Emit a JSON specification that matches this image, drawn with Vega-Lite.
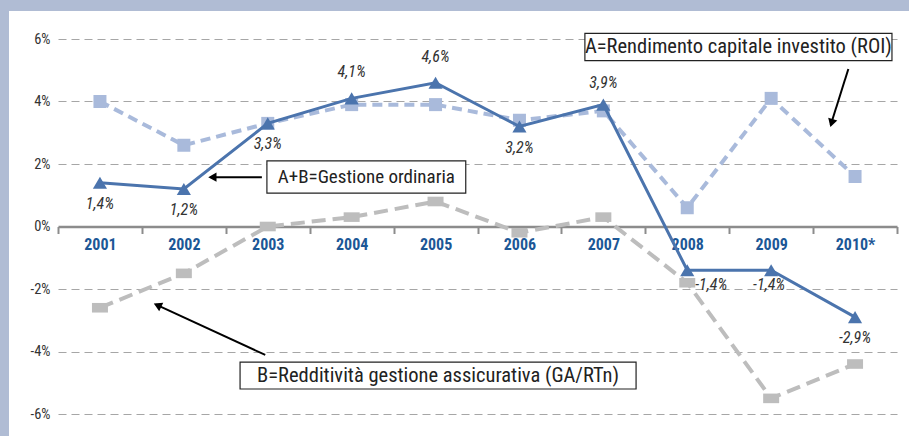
{
  "$schema": "https://vega.github.io/schema/vega-lite/v6.json",
  "width": 839,
  "height": 375,
  "autosize": "none",
  "padding": {"left": 58, "top": 39, "right": 12, "bottom": 22},
  "background": "white",
  "config": {
    "view": {"stroke": null},
    "font": "Roboto Condensed, Liberation Sans Narrow, Roboto, sans-serif",
    "locale": {"number": {"decimal": ",", "thousands": ".", "grouping": [3], "currency": ["", " €"], "minus": "-"}}
  },
  "datasets": {
    "series": [
      {"year": "2001", "roi": 0.040, "ab": 0.014, "b": -0.026},
      {"year": "2002", "roi": 0.026, "ab": 0.012, "b": -0.015},
      {"year": "2003", "roi": 0.033, "ab": 0.033, "b": 0.000},
      {"year": "2004", "roi": 0.039, "ab": 0.041, "b": 0.003},
      {"year": "2005", "roi": 0.039, "ab": 0.046, "b": 0.008},
      {"year": "2006", "roi": 0.034, "ab": 0.032, "b": -0.002},
      {"year": "2007", "roi": 0.037, "ab": 0.039, "b": 0.003},
      {"year": "2008", "roi": 0.006, "ab": -0.014, "b": -0.018},
      {"year": "2009", "roi": 0.041, "ab": -0.014, "b": -0.055},
      {"year": "2010*", "roi": 0.016, "ab": -0.029, "b": -0.044}
    ],
    "frame": [
      {"x": -0.70, "x2": 10.2, "y": 0.069, "y2": 0.076},
      {"x": -0.70, "x2": -0.584, "y": -0.075, "y2": 0.076}
    ],
    "boxes": [
      {"box": "A", "x": 6.28, "x2": 9.94, "y": 0.0618, "y2": 0.0531, "cx": 8.11, "cy": 0.0575, "text": "A=Rendimento capitale investito (ROI)"},
      {"box": "AB", "x": 2.49, "x2": 4.86, "y": 0.0210, "y2": 0.0107, "cx": 3.675, "cy": 0.0159, "text": "A+B=Gestione ordinaria"},
      {"box": "B", "x": 2.17, "x2": 6.89, "y": -0.0434, "y2": -0.0520, "cx": 4.53, "cy": -0.0477, "text": "B=Redditività gestione assicurativa (GA/RTn)"}
    ],
    "arrows": [
      {"x": 9.42, "y": 0.0504, "x2": 9.21, "y2": 0.0325},
      {"x": 2.43, "y": 0.0158, "x2": 1.82, "y2": 0.0158},
      {"x": 2.47, "y": -0.0411, "x2": 1.17, "y2": -0.0250}
    ]
  },
  "layer": [
    {
      "data": {"name": "frame"},
      "mark": {"type": "rect", "color": "#b0bcd4"},
      "encoding": {
        "x": {"field": "x", "type": "quantitative", "scale": {"domain": [0, 10], "nice": false, "zero": false}, "axis": null},
        "x2": {"field": "x2"},
        "y": {
          "field": "y", "type": "quantitative", "title": null,
          "scale": {"domain": [-0.06, 0.06], "nice": false},
          "axis": {
            "title": null, "values": [-0.06, -0.04, -0.02, 0, 0.02, 0.04, 0.06], "format": ".0%",
            "domain": false, "ticks": false, "labelPadding": 8,
            "grid": true, "gridDash": [8, 5], "gridColor": "#a6a6a6", "gridWidth": 1.2,
            "labelFontSize": 14.5, "labelColor": "#333333"
          }
        },
        "y2": {"field": "y2"}
      }
    },
    {
      "data": {"name": "series"},
      "encoding": {
        "x": {
          "field": "year", "type": "nominal", "sort": null,
          "scale": {"type": "band", "paddingInner": 0, "paddingOuter": 0},
          "axis": {
            "title": null, "orient": "bottom", "offset": -187.5,
            "domainColor": "#8c8c8c", "domainWidth": 2.5,
            "tickColor": "#8c8c8c", "tickWidth": 2, "tickSize": 7, "tickBand": "extent",
            "labelFontSize": 16, "labelFontWeight": "bold", "labelColor": "#1c5796", "labelPadding": 3,
            "grid": false, "labelAngle": 0
          }
        }
      },
      "layer": [
        {
          "mark": {"type": "line", "color": "#bdbdbd", "strokeWidth": 4, "strokeDash": [14, 7]},
          "encoding": {"y": {"field": "b", "type": "quantitative", "title": null}}
        },
        {
          "mark": {"type": "point", "filled": true, "opacity": 1, "color": "#bdbdbd", "shape": "M-1,-0.6L1,-0.6L1,0.6L-1,0.6Z", "size": 256},
          "encoding": {"y": {"field": "b", "type": "quantitative", "title": null}}
        },
        {
          "mark": {"type": "line", "color": "#a9badb", "strokeWidth": 4, "strokeDash": [10, 6]},
          "encoding": {"y": {"field": "roi", "type": "quantitative", "title": null}}
        },
        {
          "mark": {"type": "point", "filled": true, "opacity": 1, "color": "#a9badb", "shape": "square", "size": 169},
          "encoding": {"y": {"field": "roi", "type": "quantitative", "title": null}}
        },
        {
          "mark": {"type": "line", "color": "#4b74ad", "strokeWidth": 3},
          "encoding": {"y": {"field": "ab", "type": "quantitative", "title": null}}
        },
        {
          "mark": {"type": "point", "filled": true, "opacity": 1, "color": "#4b74ad", "shape": "triangle-up", "size": 200},
          "encoding": {"y": {"field": "ab", "type": "quantitative", "title": null}}
        },
        {
          "transform": [{"filter": "indexof(['2004','2005'], datum.year) >= 0"}],
          "mark": {"type": "text", "fontStyle": "italic", "fontSize": 16, "color": "#333333", "dy": -26},
          "encoding": {"y": {"field": "ab", "type": "quantitative", "title": null}, "text": {"field": "ab", "type": "quantitative", "format": ".1%"}}
        },
        {
          "transform": [{"filter": "datum.year == '2007'"}],
          "mark": {"type": "text", "fontStyle": "italic", "fontSize": 16, "color": "#333333", "dy": -22},
          "encoding": {"y": {"field": "ab", "type": "quantitative", "title": null}, "text": {"field": "ab", "type": "quantitative", "format": ".1%"}}
        },
        {
          "transform": [{"filter": "indexof(['2001','2002','2003','2006','2010*'], datum.year) >= 0"}],
          "mark": {"type": "text", "fontStyle": "italic", "fontSize": 16, "color": "#333333", "dy": 21},
          "encoding": {"y": {"field": "ab", "type": "quantitative", "title": null}, "text": {"field": "ab", "type": "quantitative", "format": ".1%"}}
        },
        {
          "transform": [{"filter": "datum.year == '2008'"}],
          "mark": {"type": "text", "fontStyle": "italic", "fontSize": 16, "color": "#333333", "dx": 24, "dy": 15},
          "encoding": {"y": {"field": "ab", "type": "quantitative", "title": null}, "text": {"field": "ab", "type": "quantitative", "format": ".1%"}}
        },
        {
          "transform": [{"filter": "datum.year == '2009'"}],
          "mark": {"type": "text", "fontStyle": "italic", "fontSize": 16, "color": "#333333", "dx": -2, "dy": 15},
          "encoding": {"y": {"field": "ab", "type": "quantitative", "title": null}, "text": {"field": "ab", "type": "quantitative", "format": ".1%"}}
        }
      ]
    },
    {
      "encoding": {
        "x": {"field": "x", "type": "quantitative", "scale": {"domain": [0, 10], "nice": false, "zero": false}, "axis": null},
        "y": {"field": "y", "type": "quantitative", "title": null}
      },
      "layer": [
        {
          "data": {"name": "arrows"},
          "mark": {"type": "rule", "color": "black", "strokeWidth": 2},
          "encoding": {"x2": {"field": "x2"}, "y2": {"field": "y2"}}
        },
        {
          "data": {"values": [{"x": 9.22, "y": 0.0331}]},
          "mark": {"type": "point", "shape": "triangle-up", "filled": true, "opacity": 1, "color": "black", "size": 90, "angle": 197},
          "encoding": {}
        },
        {
          "data": {"values": [{"x": 1.84, "y": 0.0158}]},
          "mark": {"type": "point", "shape": "triangle-up", "filled": true, "opacity": 1, "color": "black", "size": 90, "angle": 270},
          "encoding": {}
        },
        {
          "data": {"values": [{"x": 1.186, "y": -0.0252}]},
          "mark": {"type": "point", "shape": "triangle-up", "filled": true, "opacity": 1, "color": "black", "size": 90, "angle": 295},
          "encoding": {}
        },
        {
          "data": {"name": "boxes"},
          "mark": {"type": "rect", "fill": "white", "stroke": "#222222", "strokeWidth": 1.2},
          "encoding": {"x2": {"field": "x2"}, "y2": {"field": "y2"}}
        },
        {
          "data": {"name": "boxes"},
          "transform": [{"filter": "datum.box != 'AB'"}],
          "mark": {"type": "text", "fontSize": 20.5, "color": "#222222"},
          "encoding": {
            "x": {"field": "cx", "type": "quantitative"},
            "y": {"field": "cy", "type": "quantitative", "title": null},
            "text": {"field": "text"}
          }
        },
        {
          "data": {"name": "boxes"},
          "transform": [{"filter": "datum.box == 'AB'"}],
          "mark": {"type": "text", "fontSize": 19, "color": "#222222"},
          "encoding": {
            "x": {"field": "cx", "type": "quantitative"},
            "y": {"field": "cy", "type": "quantitative", "title": null},
            "text": {"field": "text"}
          }
        }
      ]
    }
  ],
  "resolve": {"scale": {"x": "independent"}}
}
